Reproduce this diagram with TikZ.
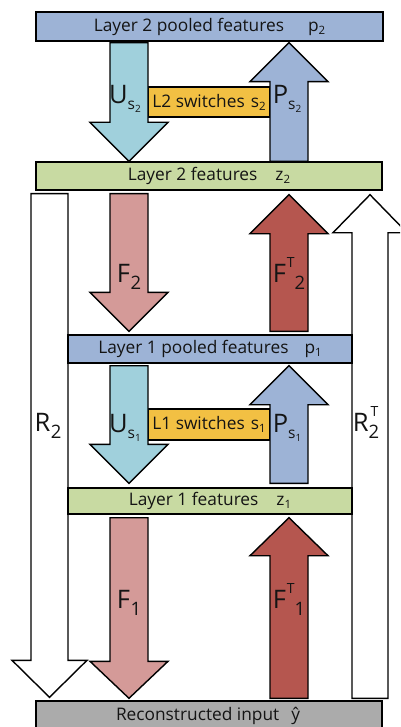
\documentclass[tikz,border=0pt]{standalone}
\usepackage{fontspec}
\setmainfont{Open Sans}
\usetikzlibrary{calc}
\definecolor{poolblue}{HTML}{9DB3D6}
\definecolor{unpool}{HTML}{A0D0DC}
\definecolor{switchc}{HTML}{F2C043}
\definecolor{featgreen}{HTML}{C8DAA2}
\definecolor{filtlight}{HTML}{D49A98}
\definecolor{filtdark}{HTML}{B5564F}
\definecolor{recongray}{HTML}{ABABAB}
\definecolor{txt}{HTML}{141414}
\newcommand\bsz{\fontsize{17.3}{17.3}\selectfont}
\newcommand\bigsz{\fontsize{25.5}{25.5}\selectfont}
% box label subscript
\newcommand\bxsub[2]{#1\raisebox{-3pt}{\fontsize{11.5}{11.5}\selectfont #2}}
% big label with s_n subscript
\newcommand\opsub[2]{{\bigsz #1\raisebox{-6pt}{\fontsize{15.5}{15.5}\selectfont s\raisebox{-3pt}{\fontsize{10}{10}\selectfont #2}}}}
% big label with plain subscript
\newcommand\opnum[2]{{\bigsz #1\hspace{0.5pt}\raisebox{-7pt}{\fontsize{18.5}{18.5}\selectfont #2}}}
% big label with T superscript then subscript
\newcommand\opT[2]{{\bigsz #1\hspace{1pt}\raisebox{15pt}{\fontsize{14}{14}\selectfont T}\hspace{0pt}\raisebox{-7pt}{\fontsize{18.5}{18.5}\selectfont #2}}}
% big label with stacked T and subscript
\newcommand\opRT[2]{{\bigsz #1\makebox[0pt][l]{\hspace{2pt}\raisebox{15pt}{\fontsize{14}{14}\selectfont T}}\raisebox{-7pt}{\fontsize{18.5}{18.5}\selectfont #2}}}
% block arrow: #1 style, #2 start, #3 tip, #4 shaft half width, #5 head half width, #6 head length
\newcommand\blockarrow[6]{%
  \coordinate (hb) at ($(#3)!#6!(#2)$);
  \draw[#1] ($(#2)!#4!90:(#3)$) -- ($(hb)!#4!-90:(#2)$) -- ($(hb)!#5!-90:(#2)$) -- (#3)
    -- ($(hb)!#5!90:(#2)$) -- ($(hb)!#4!90:(#2)$) -- ($(#2)!#4!-90:(#3)$) -- cycle;}
\tikzset{
  box/.style={draw=black, line width=1.4pt, inner sep=0pt, text=txt, font=\bsz},
  arr/.style={draw=black, line width=1.4pt, line join=miter},
  lbl/.style={inner sep=0pt, text=txt, anchor=base},
}
\begin{document}
\begin{tikzpicture}[x=1pt,y=-1pt]
\useasboundingbox (0,0) rectangle (400,727);
\clip (0,0) rectangle (400,727);
% columns
\coordinate (cU) at (129,0);
\coordinate (cP) at (289,0);
\coordinate (cR) at (49.5,0);
\coordinate (cRT) at (370,0);
% boxes
\node[box, fill=poolblue, minimum width=347pt, minimum height=29pt] (p2) at (209.5,26.5) {Layer 2 pooled features\hspace{24pt}\bxsub{p}{2}};
\node[box, fill=featgreen, minimum width=346pt, minimum height=28pt] (z2) at (209,176) {Layer 2 features\hspace{18pt}\bxsub{z}{2}};
\node[box, fill=recongray, minimum width=346pt, minimum height=34pt] (rec) at (209,718) {};
\node[inner sep=0pt, text=txt, font=\bsz] (rect) at (208,715.5) {Reconstructed input\hspace{12pt}ŷ};
% R arrows (behind layer 1 boxes)
\coordinate (r2a) at ($(cR |- z2.south)+(0,3)$);
\coordinate (r2b) at ($(cR |- rec.north)+(0,-3)$);
\blockarrow{arr, fill=white}{r2a}{r2b}{18.5pt}{37.5pt}{37pt}
\coordinate (rta) at ($(cRT |- rec.north)+(0,-2)$);
\coordinate (rtb) at ($(cRT |- z2.south)+(0,4)$);
\blockarrow{arr, fill=white}{rta}{rtb}{18pt}{37pt}{38pt}
% layer 1 boxes
\node[box, fill=poolblue, minimum width=284pt, minimum height=28pt] (p1) at (210,349) {Layer 1 pooled features\hspace{16pt}\bxsub{p}{1}};
\node[box, fill=featgreen, minimum width=284pt, minimum height=26pt] (z1) at (210,501) {Layer 1 features\hspace{18pt}\bxsub{z}{1}};
% switches
\node[box, fill=switchc, minimum width=122pt, minimum height=30pt] (s2) at (209,102) {L2 switches\hspace{6pt}\bxsub{s}{2}};
\node[box, fill=switchc, minimum width=122pt, minimum height=31pt] (s1) at (209,424.5) {L1 switches\hspace{6pt}\bxsub{s}{1}};
% layer 2 arrows
\coordinate (u2a) at ($(cU |- p2.south)+(0,1)$);
\coordinate (u2b) at (cU |- z2.north);
\blockarrow{arr, fill=unpool}{u2a}{u2b}{19pt}{39pt}{39pt}
\coordinate (ps2a) at (cP |- z2.north);
\coordinate (ps2b) at ($(cP |- p2.south)+(0,1)$);
\blockarrow{arr, fill=poolblue}{ps2a}{ps2b}{19pt}{39pt}{39pt}
\coordinate (f2a) at ($(cU |- z2.south)+(0,3)$);
\coordinate (f2b) at ($(cU |- p1.north)+(0,-3)$);
\blockarrow{arr, fill=filtlight}{f2a}{f2b}{19pt}{39pt}{39pt}
\coordinate (ft2a) at ($(cP |- p1.north)+(0,-3)$);
\coordinate (ft2b) at ($(cP |- z2.south)+(0,4)$);
\blockarrow{arr, fill=filtdark}{ft2a}{ft2b}{19pt}{39pt}{39pt}
% layer 1 arrows
\coordinate (u1a) at ($(cU |- p1.south)+(0,2)$);
\coordinate (u1b) at ($(cU |- z1.north)+(0,-4)$);
\blockarrow{arr, fill=unpool}{u1a}{u1b}{19pt}{39pt}{39pt}
\coordinate (ps1a) at ($(cP |- z1.north)+(0,-4)$);
\coordinate (ps1b) at ($(cP |- p1.south)+(0,2)$);
\blockarrow{arr, fill=poolblue}{ps1a}{ps1b}{19pt}{39pt}{39pt}
\coordinate (f1a) at ($(cU |- z1.south)+(0,3)$);
\coordinate (f1b) at ($(cU |- rec.north)+(0,-2)$);
\blockarrow{arr, fill=filtlight}{f1a}{f1b}{19pt}{39pt}{37pt}
\coordinate (ft1a) at ($(cP |- rec.north)+(0,-2)$);
\coordinate (ft1b) at ($(cP |- z1.south)+(0,3)$);
\blockarrow{arr, fill=filtdark}{ft1a}{ft1b}{19pt}{39pt}{38pt}
% operator labels
\node[lbl] (lu2) at (125,104) {\opsub{U}{2}};
\node[lbl] (lp2) at (287,104) {\opsub{P}{2}};
\node[lbl] (lf2) at (129,282) {\opnum{F}{2}};
\node[lbl] (lft2) at (289,282) {\opT{F}{2}};
\node[lbl] (lr2) at (48,431) {\opnum{R}{2}};
\node[lbl] (lrt2) at (366,431) {\opRT{R}{2}};
\node[lbl] (lu1) at (125,432) {\opsub{U}{1}};
\node[lbl] (lp1) at (287,432) {\opsub{P}{1}};
\node[lbl] (lf1) at (129,608) {\opnum{F}{1}};
\node[lbl] (lft1) at (289,608) {\opT{F}{1}};
\end{tikzpicture}
\end{document}
